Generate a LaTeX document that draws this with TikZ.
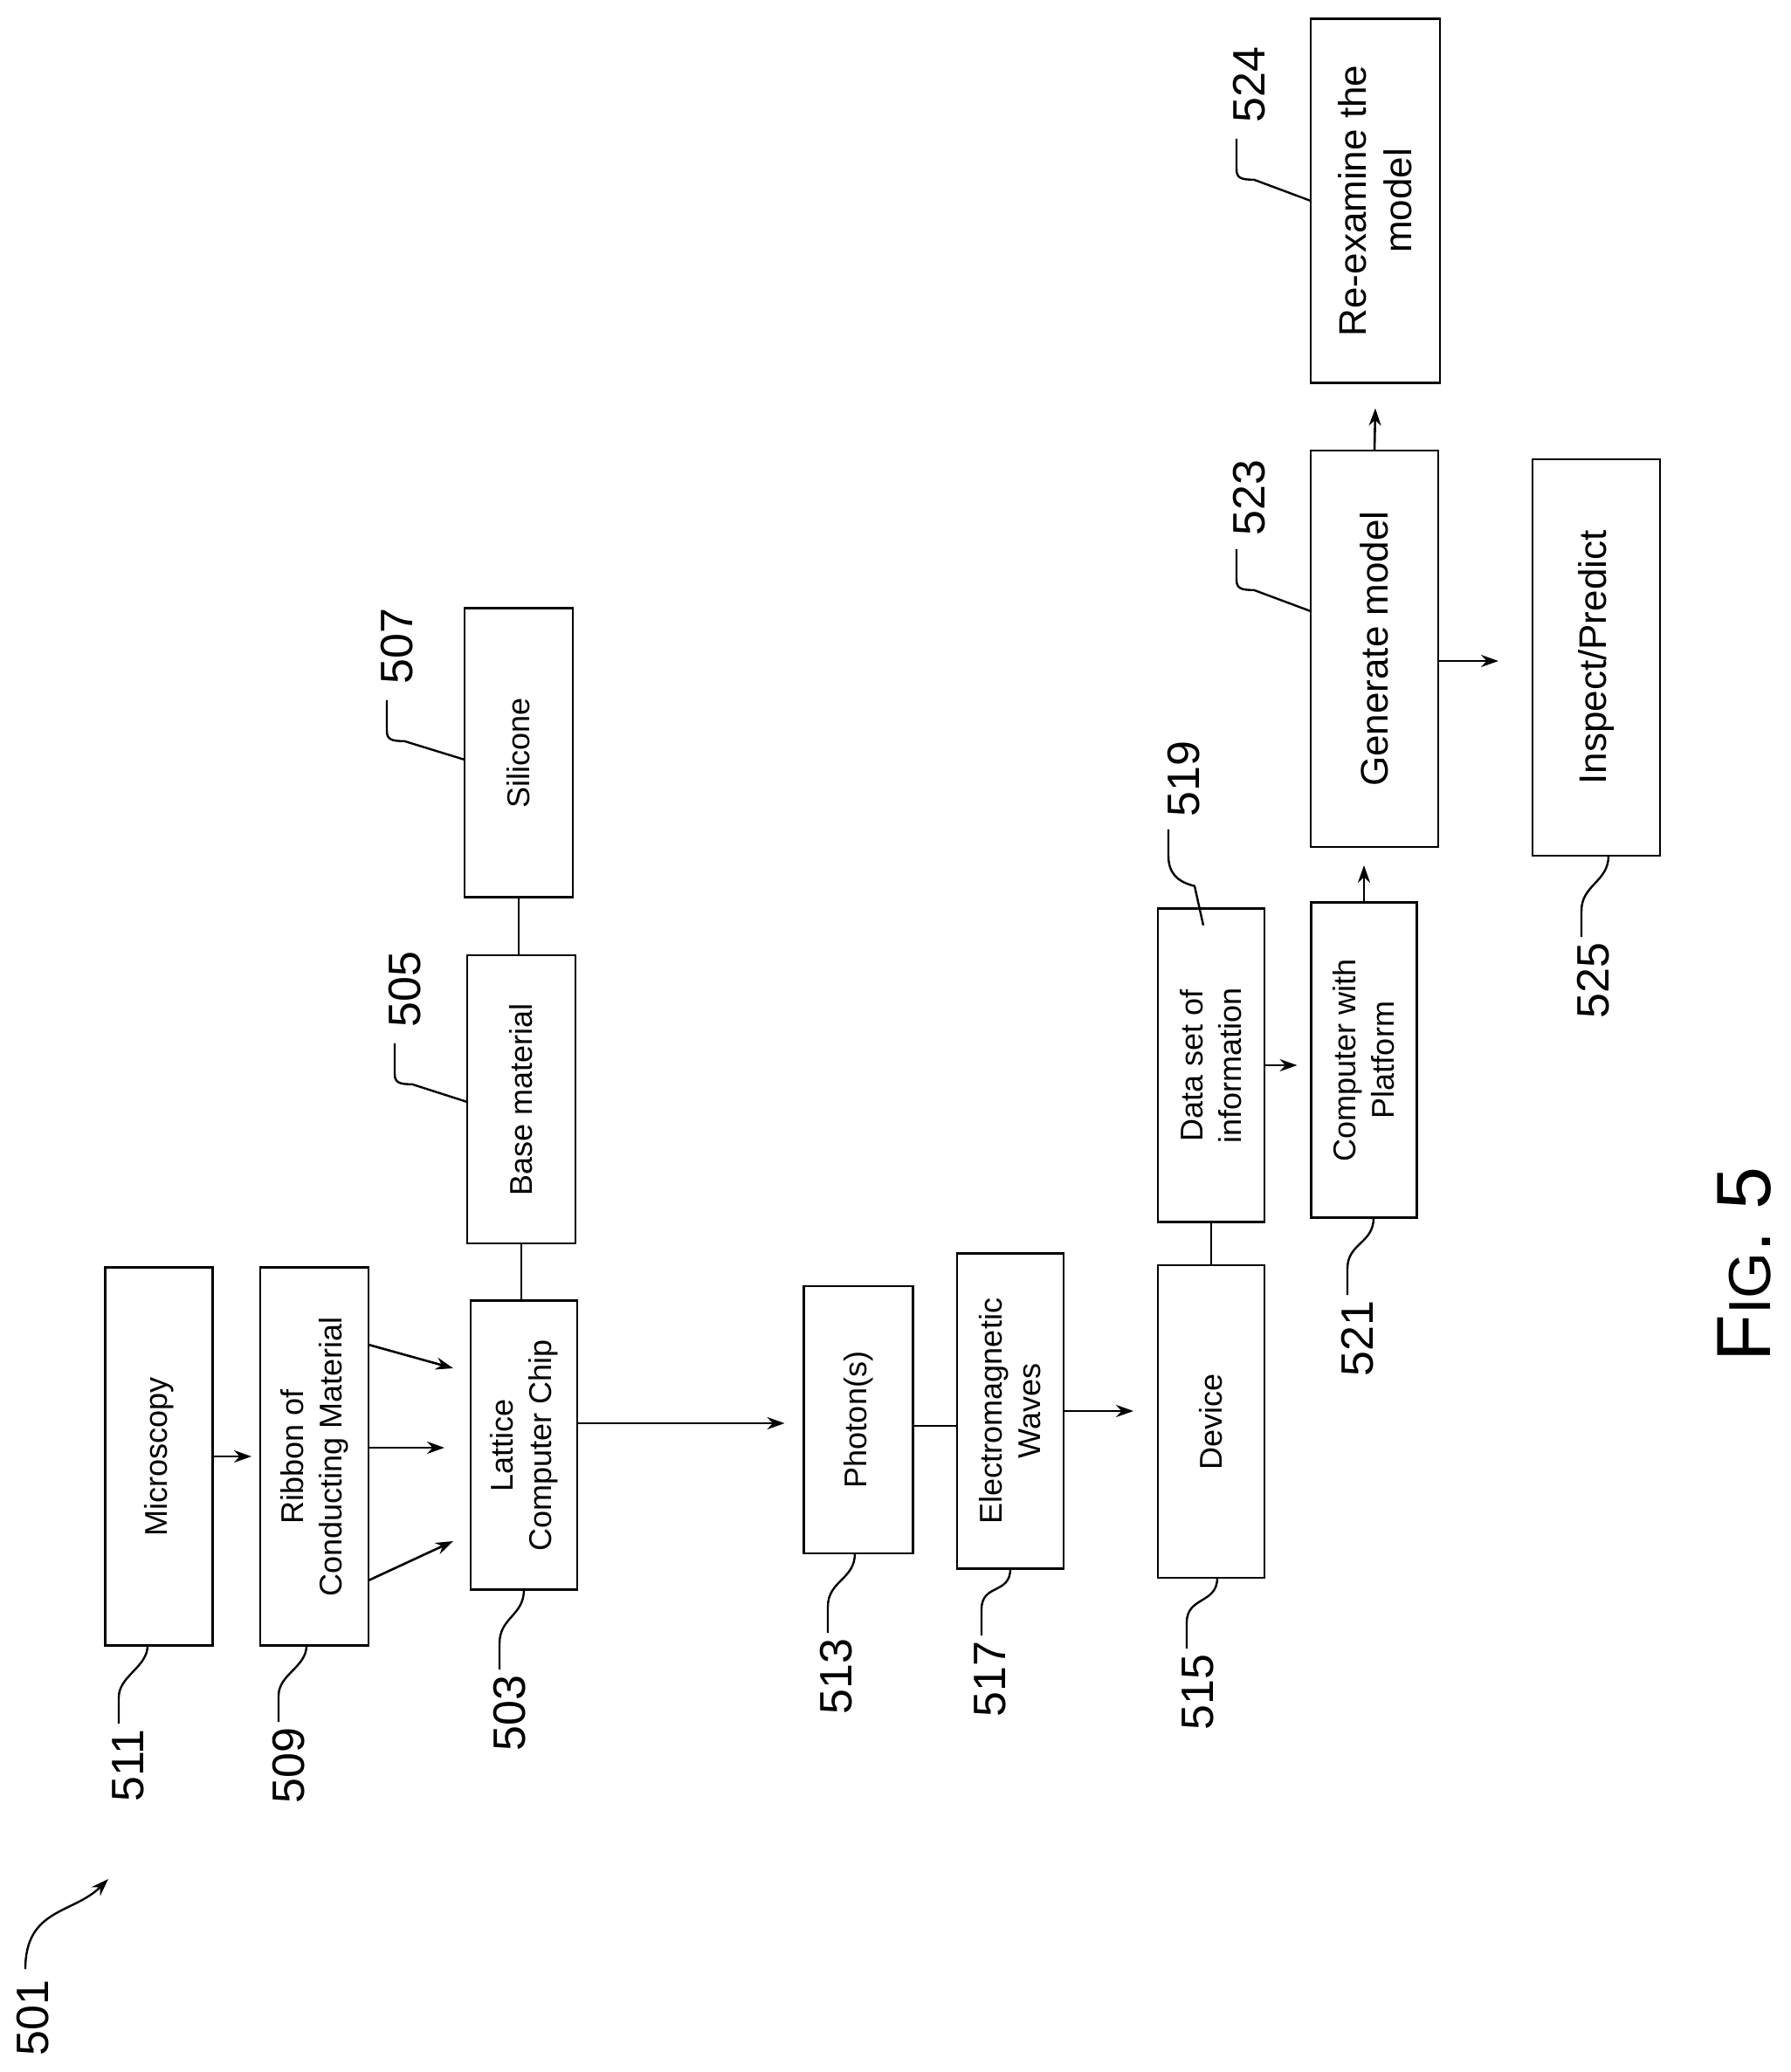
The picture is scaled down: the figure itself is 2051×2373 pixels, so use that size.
\documentclass[tikz,border=0pt]{standalone}
\usepackage{fontspec}
\setmainfont{Liberation Sans}
\usetikzlibrary{arrows.meta,calc}

\begin{document}
\begin{tikzpicture}[
            x = 0.5pt, y = -0.5pt,
            box/.style 2 args = {draw, line width=1.3pt, rotate=90, inner sep=0pt, outer sep=0pt,
                align=center, font=\fontsize{18}{22}\selectfont,
                minimum width=#1*0.5pt, minimum height=#2*0.5pt},
            num/.style = {rotate=90, inner sep=0pt, font=\fontsize{26}{28}\selectfont},
            arr/.style = {draw, line width=1.3pt, -{Stealth[length=10pt,width=7pt]}},
            lead/.style = {draw, line width=1.2pt}
        ]
        \useasboundingbox (0,0) rectangle (2051,2373);
        % boxes
        \node[box={433}{123}] (mic) at (182,1668) {Microscopy};
        \node[box={433}{124}] (rib) at (360,1668) {Ribbon of\\Conducting Material};
        \node[box={331}{122}] (lat) at (600,1655) {Lattice\\Computer Chip};
        \node[box={330}{124}] (bas) at (597,1259) {Base material};
        \node[box={331}{124}] (sil) at (594,862) {Silicone};
        \node[box={306}{125}] (pho) at (983,1626) {Photon(s)};
        \node[box={361}{122}] (ewa) at (1157,1616) {Electromagnetic\\Waves};
        \node[box={358}{122}] (dev) at (1387,1628) {Device};
        \node[box={359}{122}] (dat) at (1387,1220) {Data set of\\information};
        \node[box={361}{121}] (com) at (1562,1214) {Computer with\\Platform};
        \node[box={454}{146}, font=\fontsize{22}{26}\selectfont] (gen) at (1574,743) {Generate model};
        \node[box={417}{148}, font=\fontsize{22}{26}\selectfont] (rex) at (1575,230) {Re-examine the\\model};
        \node[box={454}{146}, font=\fontsize{22}{26}\selectfont] (ins) at (1828,753) {Inspect/Predict};
        % reference numerals
        \node[num] (n501) at (38,2311) {501};
        \node[num] (n511) at (147,2022) {511};
        \node[num] (n509) at (331,2022) {509};
        \node[num] (n503) at (584,1962) {503};
        \node[num] (n505) at (464,1133) {505};
        \node[num] (n507) at (455,740) {507};
        \node[num] (n513) at (958,1920) {513};
        \node[num] (n517) at (1134,1923) {517};
        \node[num] (n515) at (1372,1938) {515};
        \node[num] (n519) at (1356,892) {519};
        \node[num] (n521) at (1555,1533) {521};
        \node[num] (n523) at (1431,570) {523};
        \node[num] (n524) at (1431,97) {524};
        \node[num] (n525) at (1825,1123) {525};
        \node[rotate=90, font=\fontsize{44}{48}\selectfont] (fig) at (1998,1448)
            {F{\fontsize{34}{36}\selectfont IG}. 5};
        % connectors
        \draw[arr, shorten >=5pt] (mic) -- (rib);
        \draw[arr] ($(rib.south)+(0,-128)$) -- ($(lat.north)+(-20,-88)$);
        \draw[arr] ($(rib.south)+(0,-10)$) -- ($(lat.north)+(-30,3)$);
        \draw[arr] ($(rib.south)+(0,142)$) -- ($(lat.north)+(-20,110)$);
        \draw[lead] (bas.west) -- (bas.west |- lat.east);
        \draw[lead] (sil.west) -- (sil.west |- bas.east);
        \draw[arr] (lat.south |- 0,1630) -- ($(pho.north |- 0,1630)+(-22,0)$);
        \draw[lead] (pho.south |- 0,1633) -- (ewa.north |- 0,1633);
        \draw[arr] (ewa.south) -- ($(dev.north |- ewa.south)+(-28,0)$);
        \draw[lead] (dat.west) -- (dat.west |- dev.east);
        \draw[arr] (dat.south) -- ($(com.north |- dat.south)+(-16,0)$);
        \draw[arr] (com.east) -- ($(gen.west -| com.east)+(0,21)$);
        \draw[arr] (gen.east) -- ($(rex.west)+(0,29)$);
        \draw[arr] (gen.south |- 0,757) -- ($(ins.north |- 0,757)+(-39,0)$);
        % leaders
        \draw[arr, line width=1.2pt] ($(n501.east)+(-9,-12)$) .. controls +(0,-70) and +(-40,40) .. (124,2152);
        \draw[lead] ($(n511.east)+(-11,-6)$) -- ++(0,-30) .. controls +(0,-25) and +(0,25) .. ($(mic.west)+(-13,0)$);
        \draw[lead] ($(n509.east)+(-12,-6)$) -- ++(0,-30) .. controls +(0,-25) and +(0,25) .. ($(rib.west)+(-9,0)$);
        \draw[lead] ($(n503.east)+(-12,-6)$) -- ++(0,-30) .. controls +(0,-30) and +(0,30) .. (lat.west);
        \draw[lead] ($(n513.east)+(-10,-6)$) -- ++(0,-30) .. controls +(0,-30) and +(0,30) .. ($(pho.west)+(-4,0)$);
        \draw[lead] ($(n517.east)+(-10,-6)$) -- ++(0,-30) .. controls +(0,-30) and +(0,30) .. (ewa.west);
        \draw[lead] ($(n515.east)+(-13,-6)$) -- ++(0,-30) .. controls +(0,-30) and +(0,30) .. ($(dev.west)+(7,0)$);
        \draw[lead] ($(n521.east)+(-12,-6)$) -- ++(0,-30) .. controls +(0,-30) and +(0,30) .. ($(com.west)+(11,0)$);
        \draw[lead] ($(n525.east)+(-14,-6)$) -- ++(0,-30) .. controls +(0,-30) and +(0,30) .. ($(ins.west)+(14,0)$);
        \draw[lead] ($(n519.west)+(-18,14)$) -- ++(0,30) .. controls +(0,20) and +(-20,-5) .. ++(30,35) -- ++(10,45);
        \draw[lead] ($(n507.west)+(-12,18)$) -- ++(0,35) .. controls +(0,10) and +(-15,0) .. ++(20,12) -- ($(sil.north)+(0,8)$);
        \draw[lead] ($(n505.west)+(-12,18)$) -- ++(0,35) .. controls +(0,10) and +(-15,0) .. ++(20,12) -- ($(bas.north)+(0,3)$);
        \draw[lead] ($(n523.west)+(-15,15)$) -- ++(0,35) .. controls +(0,10) and +(-15,0) .. ++(20,12) -- ($(gen.north)+(0,-43)$);
        \draw[lead] ($(n524.west)+(-15,18)$) -- ++(0,35) .. controls +(0,10) and +(-15,0) .. ++(20,12) -- (rex.north);
    \end{tikzpicture}
\end{document}
